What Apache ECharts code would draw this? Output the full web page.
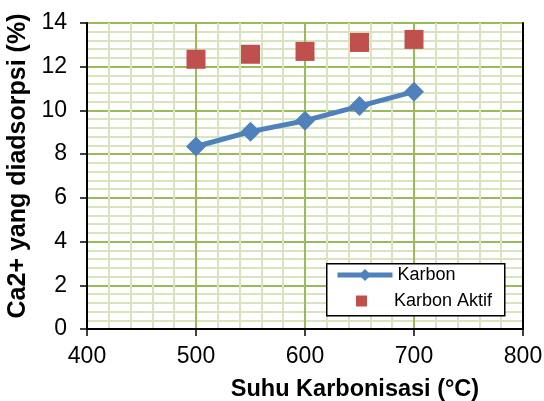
<!DOCTYPE html>
<html>
<head>
<meta charset="utf-8">
<script src="https://cdn.jsdelivr.net/npm/echarts@6/dist/echarts.min.js"></script>
<style>
  html, body { margin: 0; padding: 0; background: #fff; }
  #chart { width: 544px; height: 401px; }
</style>
</head>
<body>
<div id="chart"></div>
<script>
// suhu karbonisasi (°C)
var suhu = [500, 550, 600, 650, 700]
// Ca2+ yang diadsorpsi (%)
var karbon = [8.35, 9.03, 9.53, 10.2, 10.86]
var karbonAktif = [12.34, 12.57, 12.7, 13.11, 13.25]

var xTicks = [400, 800, 100]
var yTicks = [0, 14, 2]

var majorColor = '#9BBB59'
var minorColor = '#D7E4BD'
var font = 'Arial, "Liberation Sans", sans-serif'

function pairs(xs, ys) {
  var out = []
  for (var i = 0; i < xs.length; i++) {
    out.push([xs[i], ys[i]])
  }
  return out
}

var chart = echarts.init(document.getElementById('chart'))

var legendText = { fontFamily: font, fontSize: 18, color: '#000' }

var option = {
  animation: false,
  grid: {
    left: 87,
    right: 21,
    top: 23,
    bottom: 72,
    containLabel: false,
    outerBoundsMode: 'none'
  },
  graphic: [{
    type: 'rect',
    left: 326,
    top: 263,
    shape: { width: 178, height: 52 },
    style: { fill: '#fff', stroke: '#000', lineWidth: 1.5 },
    z: 10
  }],
  legend: [{
    left: 335,
    top: 266,
    padding: 0,
    itemWidth: 55,
    itemHeight: 15,
    lineStyle: { width: 5 },
    textStyle: legendText,
    z: 20,
    data: ['Karbon']
  }, {
    left: 356,
    top: 292,
    padding: 0,
    itemWidth: 11,
    itemHeight: 11,
    textStyle: Object.assign({ padding: [0, 0, 0, 22] }, legendText),
    z: 20,
    data: ['Karbon Aktif']
  }],
  xAxis: [{
    type: 'value',
    min: xTicks[0],
    max: xTicks[1],
    interval: xTicks[2],
    name: 'Suhu Karbonisasi (°C)',
    nameLocation: 'middle',
    nameGap: 49,
    nameTextStyle: { fontFamily: font, fontSize: 23.5, fontWeight: 'bold', color: '#000', padding: [0, 0, 0, 100] },
    axisLine: { lineStyle: { color: '#000', width: 2 } },
    axisTick: { show: true, inside: false, length: 7, lineStyle: { color: '#000', width: 1.5 } },
    axisLabel: { fontFamily: font, fontSize: 23, color: '#000', margin: 16 },
    splitLine: { show: true, lineStyle: { color: majorColor, width: 2 } },
    minorTick: { show: false, splitNumber: 5 },
    minorSplitLine: { show: true, lineStyle: { color: minorColor, width: 2 } }
  }, {
    type: 'value',
    position: 'top',
    min: xTicks[0],
    max: xTicks[1],
    interval: xTicks[2],
    axisLine: { show: true, lineStyle: { color: '#000', width: 2 } },
    axisTick: { show: false },
    axisLabel: { show: false },
    splitLine: { show: false }
  }],
  yAxis: [{
    type: 'value',
    min: yTicks[0],
    max: yTicks[1],
    interval: yTicks[2],
    name: 'Ca2+ yang diadsorpsi (%)',
    nameLocation: 'middle',
    nameGap: 53,
    nameTextStyle: { fontFamily: font, fontSize: 25, fontWeight: 'bold', color: '#000', padding: [0, 0, 0, 20] },
    axisLine: { show: true, lineStyle: { color: '#000', width: 2 } },
    axisTick: { show: true, inside: false, length: 7, lineStyle: { color: '#000', width: 1.5 } },
    axisLabel: { fontFamily: font, fontSize: 23, color: '#000', margin: 20 },
    splitLine: { show: true, lineStyle: { color: majorColor, width: 2 } },
    minorTick: { show: false, splitNumber: 5 },
    minorSplitLine: { show: true, lineStyle: { color: minorColor, width: 2 } }
  }, {
    type: 'value',
    position: 'right',
    min: yTicks[0],
    max: yTicks[1],
    interval: yTicks[2],
    axisLine: { show: true, lineStyle: { color: '#000', width: 2 } },
    axisTick: { show: false },
    axisLabel: { show: false },
    splitLine: { show: false }
  }],
  series: [{
    name: 'Karbon',
    type: 'line',
    data: pairs(suhu, karbon),
    symbol: 'diamond',
    symbolSize: [20, 20],
    itemStyle: { color: '#4F81BD' },
    lineStyle: { color: '#4F81BD', width: 5 },
    z: 3
  }, {
    name: 'Karbon Aktif',
    type: 'scatter',
    data: pairs(suhu, karbonAktif),
    symbol: 'rect',
    symbolSize: 19,
    itemStyle: { color: '#C0504D', opacity: 1 },
    z: 3
  }]
}

chart.setOption(option)
</script>
</body>
</html>
